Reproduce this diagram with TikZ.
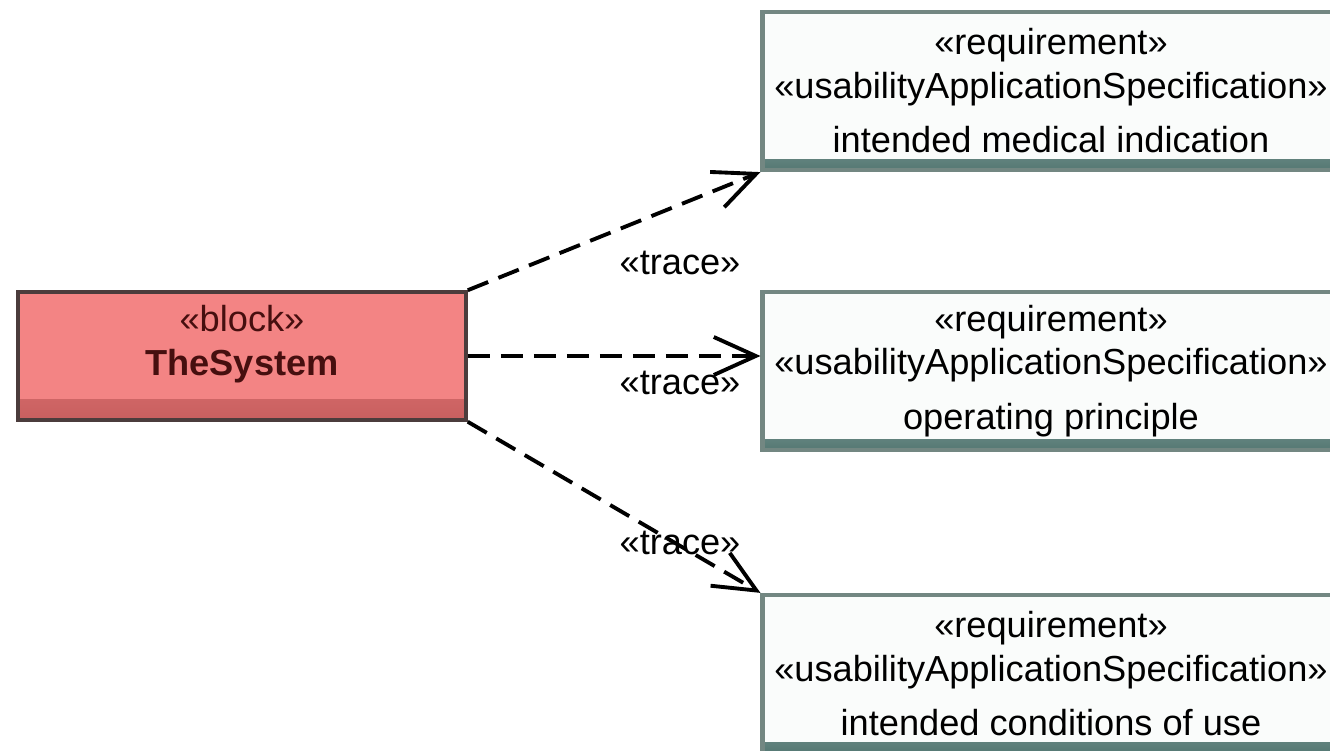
\documentclass[tikz,border=0pt]{standalone}
\usepackage[x11names]{xcolor}
\usepackage{fontspec}
\setmainfont{Liberation Sans}
\usetikzlibrary{arrows.meta, calc}

\definecolor{blockfill}{RGB}{243,132,132}
\definecolor{blockshade}{RGB}{200,95,95}
\definecolor{blockdraw}{RGB}{75,60,60}
\definecolor{blocktext}{RGB}{70,15,15}
\definecolor{reqfill}{RGB}{250,252,251}
\definecolor{reqshade}{RGB}{85,120,115}
\definecolor{reqdraw}{RGB}{115,135,130}

\begin{document}
\begin{tikzpicture}[
    reqbox/.style={draw=reqdraw, line width=1.2pt, fill=reqfill,
        minimum width=5.72cm, minimum height=1.58cm, align=center,
        font=\fontsize{10.3}{12.4}\selectfont,
        path picture={\shade[top color=reqfill, bottom color=reqshade]
            ($(path picture bounding box.south west)+(0,0.1)$) rectangle
            (path picture bounding box.south east);}},
    blockbox/.style={draw=blockdraw, line width=1pt, fill=blockfill,
        minimum width=4.48cm, minimum height=1.28cm,
        path picture={\shade[top color=blockfill, bottom color=blockshade]
            ($(path picture bounding box.south west)+(0,0.2)$) rectangle
            (path picture bounding box.south east);}},
    blocklbl/.style={align=center, text=blocktext,
        font=\fontsize{10.3}{12.4}\selectfont},
    tracelbl/.style={font=\fontsize{10.3}{12.4}\selectfont},
    trace/.style={dash pattern=on 0.22cm off 0.11cm, line width=1.1pt,
        -{Straight Barb[length=0.42cm, width=0.38cm, line width=1.1pt]}}
]
    \def\reqx{10.51}
    \useasboundingbox (0,0) rectangle (13.3,-7.51);
    \clip (0,0) rectangle (13.3,-7.51);

    \node[blockbox] (block) at (2.42,-3.56) {};
    \node[blocklbl] (blockName) at ([yshift=0.12cm]block.center)
        {«block»\\\textbf{TheSystem}};

    \node[reqbox] (reqIndication) at (\reqx,-0.91)
        {«requirement»\\«usabilityApplicationSpecification»\\[0.3em]intended medical indication};
    \node[reqbox] (reqPrinciple) at (\reqx,-3.71)
        {«requirement»\\«usabilityApplicationSpecification»\\[0.3em]operating principle};
    \node[reqbox] (reqConditions) at (\reqx,-6.74)
        {«requirement»\\«usabilityApplicationSpecification»\\[0.3em]intended conditions of use};

    \draw[trace] (block.north east) -- (reqIndication.south west);
    \draw[trace] (block.east) -- (block.east -| reqPrinciple.west);
    \draw[trace] (block.south east) -- (reqConditions.north west);

    \node[tracelbl] (traceIndication) at (6.80,-2.63) {«trace»};
    \node[tracelbl] (tracePrinciple) at (6.80,-3.83) {«trace»};
    \node[tracelbl] (traceConditions) at (6.80,-5.43) {«trace»};
\end{tikzpicture}
\end{document}
